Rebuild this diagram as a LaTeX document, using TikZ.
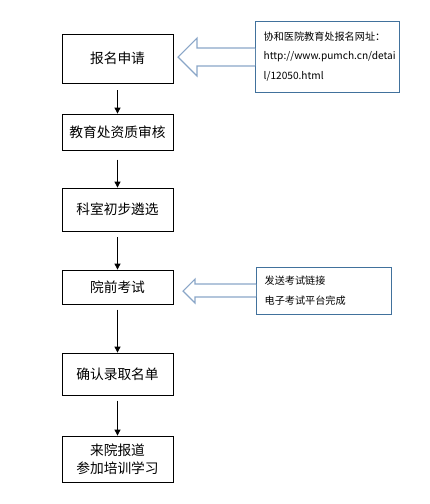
\documentclass[tikz,border=0pt]{standalone}
\usepackage{fontspec}
\setmainfont{Noto Sans CJK SC}
\usetikzlibrary{arrows.meta}
\definecolor{notecol}{HTML}{41719C}
\definecolor{arrowcol}{HTML}{8AA6C8}
\tikzset{
  stepbox/.style={draw,semithick,rectangle,minimum width=83.25pt,inner sep=0pt,
    align=center,font=\fontsize{10.3}{13.5}\selectfont},
  notebox/.style={draw=notecol,semithick,rectangle,inner ysep=0pt,inner xsep=6.5pt,
    text width=#1,align=left,font=\fontsize{7.6}{14.5}\selectfont},
  flow/.style={-{Triangle[length=4.5pt,width=4.5pt]},semithick},
  callout/.style={draw=arrowcol,thick,fill=white,line join=miter}
}
\begin{document}
\begin{tikzpicture}[x=0.75pt,y=-0.75pt]
        \useasboundingbox (0,0) rectangle (429,504);

        \node [stepbox,minimum height=36.75pt] (apply) at (117.5,58.5) {报名申请};
        \node [stepbox,minimum height=27pt] (check) at (117.5,132) {教育处资质审核};
        \node [stepbox,minimum height=32.25pt] (select) at (117.5,209.5) {科室初步遴选};
        \node [stepbox,minimum height=25.5pt] (exam) at (117.5,287) {院前考试};
        \node [stepbox,minimum height=31.5pt] (confirm) at (117.5,374) {确认录取名单};
        \node [stepbox,minimum height=34.5pt] (report) at (117.5,459) {来院报道\\参加培训学习};

        \draw [flow] ([yshift=-5pt]apply.south) -- (check.north);
        \draw [flow] ([yshift=-7pt]check.south) -- (select.north);
        \draw [flow] ([yshift=-4.5pt]select.south) -- (exam.north);
        \draw [flow] ([yshift=-4pt]exam.south) -- (confirm.north);
        \draw [flow] ([yshift=-4pt]confirm.south) -- (report.north);

        % website note
        \node [notebox=95pt,minimum height=53.25pt] (site) at (327,56.5)
          {协和医院教育处报名网址：\\http://www.pumch.cn/detai\\l/12050.html};
        \draw [callout]
          (255,48)
          -- (197,48)
          -- (197,38)
          -- (178,57)
          -- (197,76)
          -- (197,66)
          -- (255,66)
        ;

        % exam note
        \node [notebox=88.25pt,minimum height=35.25pt] (online) at (323.5,290.5)
          {发送考试链接\\电子考试平台完成};
        \draw [callout]
          (256,284)
          -- (195,284)
          -- (195,279)
          -- (183,291)
          -- (195,303)
          -- (195,297)
          -- (256,297)
        ;
      \end{tikzpicture}
\end{document}
